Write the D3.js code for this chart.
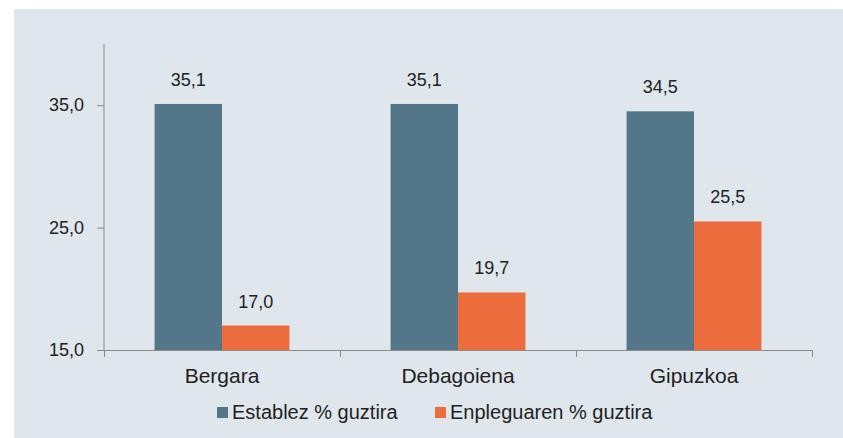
<!DOCTYPE html>
<html>
<head>
<meta charset="utf-8">
<script src="https://cdn.jsdelivr.net/npm/d3@7"></script>
<style>
  body { margin: 0; background: #fff; }
  svg { display: block; font-family: "Liberation Sans", Arial, sans-serif; }
  .axis path, .axis line { stroke: #8c8c8c; }
  .axis text { fill: #222; }
</style>
</head>
<body>
<svg id="chart" width="843" height="438"></svg>
<script>
// Data
const categories = ["Bergara", "Debagoiena", "Gipuzkoa"];
const seriesNames = ["Establez % guztira", "Enpleguaren % guztira"];
const establez = [35.1, 35.1, 34.5];
const enpleguaren = [17.0, 19.7, 25.5];
const yTicks = [15, 25, 35];
const colors = ["#537789", "#ec6c3d"];

const svg = d3.select("#chart"),
      width = +svg.attr("width"),
      height = +svg.attr("height");

const fmt = d => d3.format(".1f")(d).replace(".", ",");

// Background panel
svg.append("rect")
    .attr("x", 14).attr("y", 9)
    .attr("width", width - 14).attr("height", height - 9)
    .attr("fill", "#dfe6ec");

const plot = { left: 104, right: 812, top: 44, bottom: 350 };

// Scales
const x = d3.scaleBand()
    .domain(categories)
    .range([plot.left, plot.right])
    .padding(0);

// 150% gap width: two bars + 1.5 bar widths of gap per category
const barW = x.bandwidth() / 3.5;
const x1 = d3.scaleBand()
    .domain(seriesNames)
    .range([barW * 0.75, barW * 2.75])
    .padding(0);

const y = d3.scaleLinear()
    .domain([15, 40])
    .range([plot.bottom, plot.top]);

const rows = categories.map((c, i) => ({
  cat: c,
  vals: [
    { s: seriesNames[0], v: establez[i], c: colors[0] },
    { s: seriesNames[1], v: enpleguaren[i], c: colors[1] }
  ]
}));

// Bars
const group = svg.append("g")
  .selectAll("g")
  .data(rows)
  .enter().append("g")
    .attr("transform", d => `translate(${x(d.cat)},0)`);

group.selectAll("rect")
  .data(d => d.vals)
  .enter().append("rect")
    .attr("x", d => x1(d.s))
    .attr("y", d => y(d.v))
    .attr("width", x1.bandwidth())
    .attr("height", d => y(15) - y(d.v))
    .attr("fill", d => d.c);

group.selectAll("text")
  .data(d => d.vals)
  .enter().append("text")
    .attr("x", d => x1(d.s) + x1.bandwidth() / 2)
    .attr("y", d => y(d.v) - 18)
    .attr("text-anchor", "middle")
    .attr("font-size", 18)
    .attr("fill", "#222")
    .text(d => fmt(d.v));

// Y axis
svg.append("g")
    .attr("class", "axis")
    .attr("transform", `translate(${plot.left},0)`)
    .call(d3.axisLeft(y).tickValues(yTicks).tickSize(7).tickSizeOuter(0).tickPadding(13).tickFormat(fmt))
    .call(g => g.selectAll("text").attr("font-size", 18))
    .call(g => g.select(".domain").attr("d", `M0,${plot.top}V${plot.bottom}`));

// X axis: boundary ticks
const xb = d3.scaleLinear().domain([0, categories.length]).range([plot.left, plot.right]);
svg.append("g")
    .attr("class", "axis")
    .attr("transform", `translate(0,${plot.bottom})`)
    .call(d3.axisBottom(xb).tickValues(d3.range(categories.length + 1)).tickSize(7).tickSizeOuter(0).tickFormat(""));

// X axis: category labels
svg.append("g")
    .attr("class", "axis")
    .attr("transform", `translate(0,${plot.bottom})`)
    .call(d3.axisBottom(x).tickSize(0).tickPadding(18))
    .call(g => g.select(".domain").remove())
    .call(g => g.selectAll("text").attr("font-size", 21));

// Legend
const legendX = [217, 435];
const legend = svg.append("g")
  .selectAll("g")
  .data(seriesNames)
  .enter().append("g")
    .attr("transform", (d, i) => `translate(${legendX[i]},407)`);

legend.append("rect")
    .attr("width", 11).attr("height", 11)
    .attr("fill", (d, i) => colors[i]);

legend.append("text")
    .attr("x", 15).attr("y", 12)
    .attr("font-size", 20)
    .attr("fill", "#222")
    .text(d => d);
</script>
</body>
</html>
